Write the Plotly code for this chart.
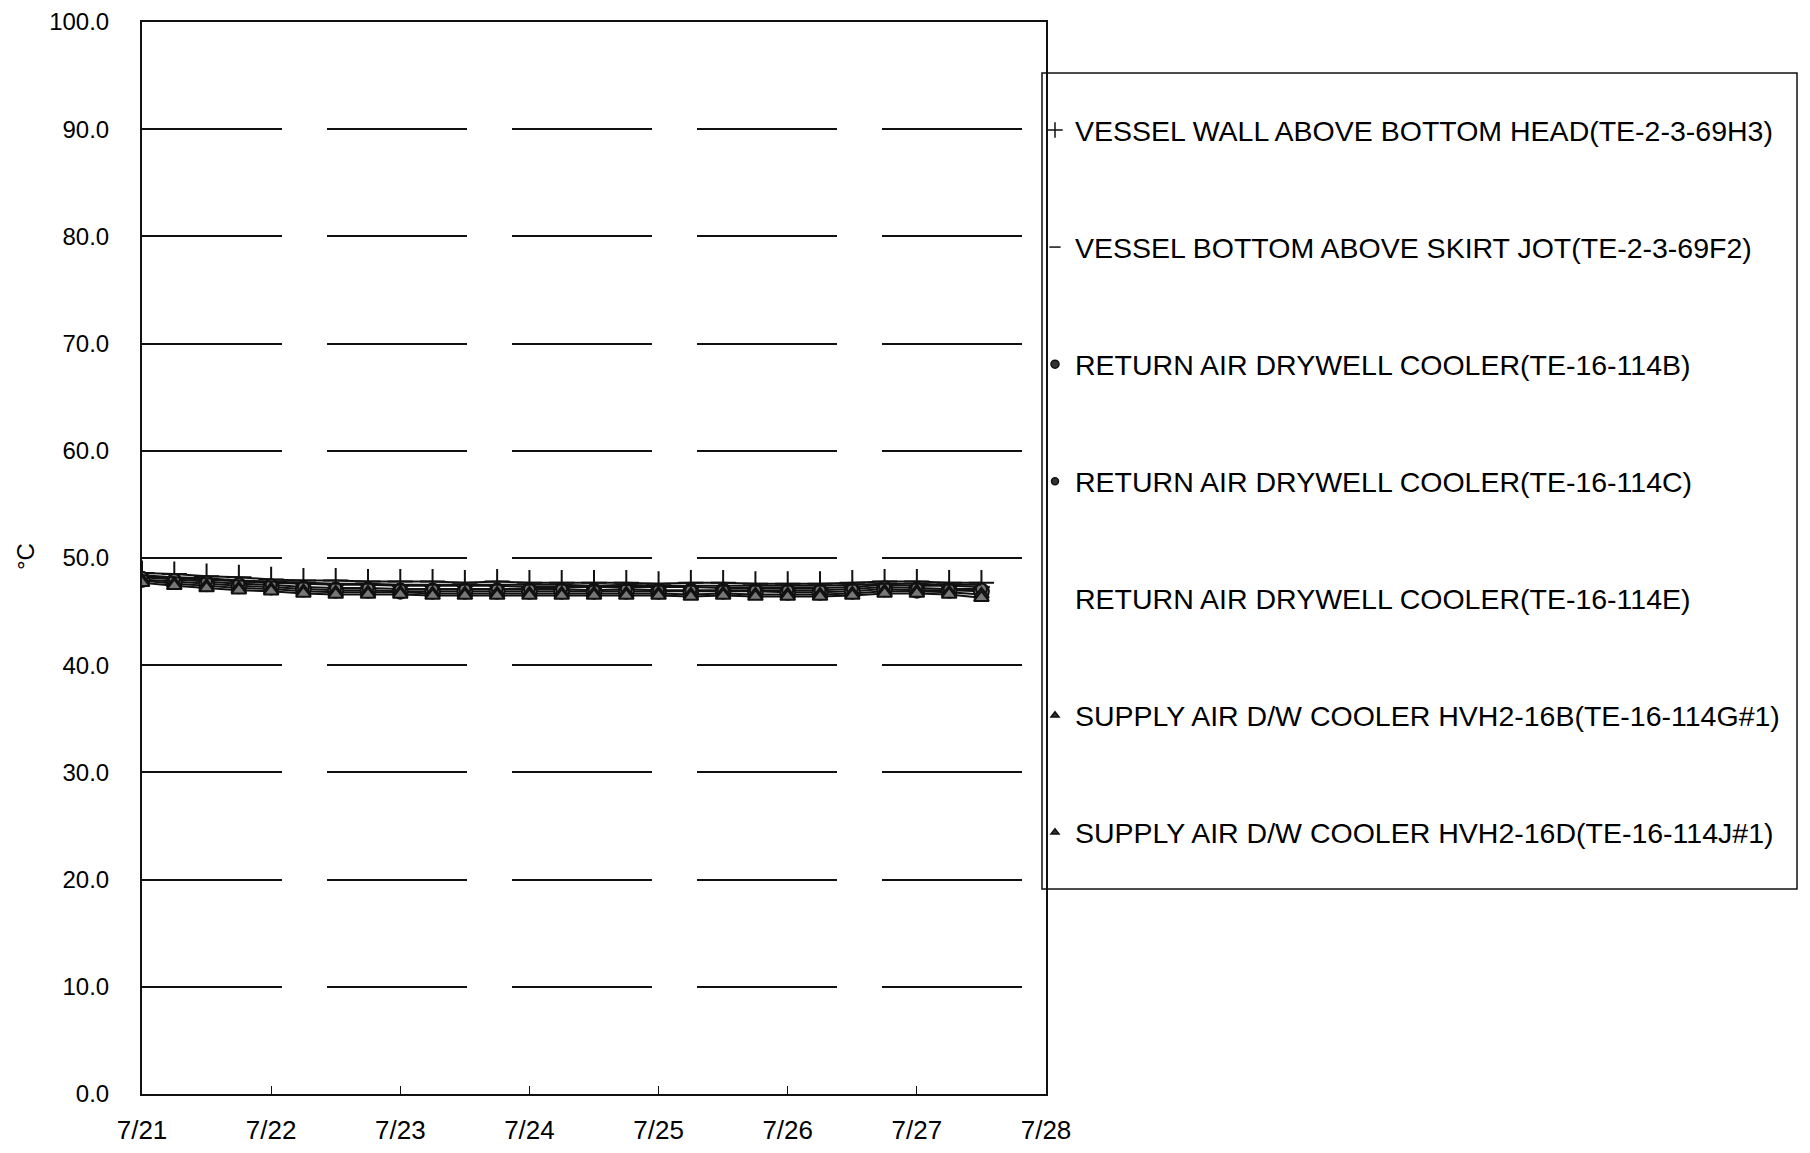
import plotly.graph_objects as go
import pandas as pd

times = pd.date_range("2011-07-21 00:00", periods=27, freq="6h")

series_names = [
    "VESSEL WALL ABOVE BOTTOM HEAD(TE-2-3-69H3)",
    "VESSEL BOTTOM ABOVE SKIRT JOT(TE-2-3-69F2)",
    "RETURN AIR DRYWELL COOLER(TE-16-114B)",
    "RETURN AIR DRYWELL COOLER(TE-16-114C)",
    "RETURN AIR DRYWELL COOLER(TE-16-114E)",
    "SUPPLY AIR D/W COOLER HVH2-16B(TE-16-114G#1)",
    "SUPPLY AIR D/W COOLER HVH2-16D(TE-16-114J#1)",
]

wall_head = [48.6,48.5,48.3,48.2,48.0,47.9,47.9,47.8,47.8,47.8,47.7,47.8,47.7,47.7,47.7,47.7,47.6,47.7,47.7,47.6,47.6,47.6,47.7,47.8,47.8,47.7,47.7]
bottom_skirt = [48.3,48.1,48.0,47.8,47.7,47.6,47.5,47.5,47.4,47.4,47.4,47.4,47.3,47.3,47.3,47.3,47.3,47.3,47.2,47.2,47.2,47.2,47.3,47.5,47.4,47.4,47.3]
return_b = [48.0,47.8,47.6,47.4,47.3,47.1,47.0,47.0,46.9,46.9,46.9,46.9,46.9,46.9,46.9,46.9,46.9,46.9,46.9,46.9,46.8,46.8,46.9,47.1,47.0,47.0,46.9]
return_c = [48.2,48.0,47.8,47.6,47.5,47.3,47.2,47.2,47.1,47.1,47.1,47.1,47.1,47.1,47.0,47.1,47.0,47.0,47.0,47.0,47.0,47.0,47.1,47.3,47.2,47.1,47.1]
return_e = [48.4,48.2,48.1,47.9,47.8,47.7,47.6,47.6,47.5,47.5,47.5,47.5,47.5,47.5,47.4,47.5,47.4,47.4,47.4,47.4,47.4,47.4,47.5,47.6,47.6,47.5,47.5]
supply_g = [47.9,47.6,47.4,47.2,47.1,46.9,46.8,46.8,46.8,46.7,46.7,46.7,46.7,46.7,46.7,46.7,46.7,46.6,46.7,46.6,46.6,46.6,46.7,46.9,46.9,46.8,46.6]
supply_j = [47.7,47.4,47.2,47.0,46.9,46.7,46.6,46.6,46.6,46.5,46.5,46.5,46.5,46.5,46.5,46.5,46.5,46.4,46.5,46.4,46.4,46.4,46.5,46.7,46.7,46.6,46.3]

all_values = [wall_head, bottom_skirt, return_b, return_c, return_e, supply_g, supply_j]
symbols = ["cross-thin", "line-ew", "circle", "circle", "circle", "triangle-up", "triangle-up"]
sizes = [18, 12, 15, 11, 0, 13, 13]
legend_sizes = [11, 8, 8, 7, 0, 7, 7]

y_ticks = [0, 10, 20, 30, 40, 50, 60, 70, 80, 90, 100]
x_ticks = pd.date_range("2011-07-21", "2011-07-28", freq="D")
x_tick_labels = ["7/21", "7/22", "7/23", "7/24", "7/25", "7/26", "7/27", "7/28"]

FONT = "Liberation Sans, Arial, sans-serif"

fig = go.Figure()
for i, (name, vals) in enumerate(zip(series_names, all_values)):
    fig.add_trace(go.Scatter(
        x=times, y=vals, mode="lines+markers" if sizes[i] else "lines",
        line=dict(color="#111", width=2),
        marker=dict(symbol=symbols[i], size=sizes[i], color="#777",
                    line=dict(color="#111", width=2)),
        showlegend=False, name=name,
    ))
# legend entries (marker only, as in the original)
for i, name in enumerate(series_names):
    has = legend_sizes[i] > 0
    fig.add_trace(go.Scatter(
        x=[None], y=[None], mode="markers", name=name,
        legendgroup=f"g{i}",
        marker=dict(symbol=symbols[i], size=legend_sizes[i] if has else 1,
                    color="#333" if has else "rgba(0,0,0,0)",
                    line=dict(color="#111" if has else "rgba(0,0,0,0)", width=1.5)),
        showlegend=True,
    ))

W, H = 1810, 1153
L, R, T, B = 134, 1038, 14, 1086

def px_x(p):
    return (p - L) / (R - L)

def px_y(p):
    return (B - p) / (B - T)

fig.update_layout(
    width=W, height=H,
    margin=dict(l=L, r=W - R, t=T, b=H - B, autoexpand=False),
    paper_bgcolor="white", plot_bgcolor="white",
    font=dict(family=FONT, color="#000", size=24),
    legend=dict(
        x=px_x(1027), y=px_y(97), xanchor="left", yanchor="top",
        font=dict(family=FONT, size=28.5, color="#000"),
        tracegroupgap=77, bgcolor="rgba(0,0,0,0)", borderwidth=0,
        itemclick=False,
    ),
    showlegend=True,
)
fig.update_xaxes(
    range=[x_ticks[0], x_ticks[-1]],
    tickvals=x_ticks, ticktext=x_tick_labels,
    ticks="inside", ticklen=8, tickcolor="#111",
    showgrid=False, zeroline=False, automargin=False,
    showline=True, linecolor="#111", linewidth=2, mirror=True,
    tickfont=dict(family=FONT, size=26, color="#000"),
    ticklabelstandoff=12,
)
fig.update_yaxes(
    range=[0, 100], tickvals=y_ticks, tickformat=".1f",
    ticks="", showgrid=True, gridcolor="#111", gridwidth=1.5,
    griddash="140px,45px", automargin=False,
    zeroline=False, showline=True, linecolor="#111", linewidth=2, mirror=True,
    tickfont=dict(family=FONT, size=24, color="#000"),
    ticklabelstandoff=26,
)
fig.add_annotation(
    x=px_x(17), y=px_y(549), xref="paper", yref="paper",
    xanchor="center", yanchor="middle",
    text="°C", textangle=-90, showarrow=False,
    font=dict(family=FONT, size=24, color="#000"),
)
fig.add_shape(
    type="rect", xref="paper", yref="paper",
    x0=px_x(1034), x1=px_x(1789), y0=px_y(881), y1=px_y(65),
    line=dict(color="#111", width=1.5), fillcolor="rgba(0,0,0,0)",
)
fig.write_html("out.html")
